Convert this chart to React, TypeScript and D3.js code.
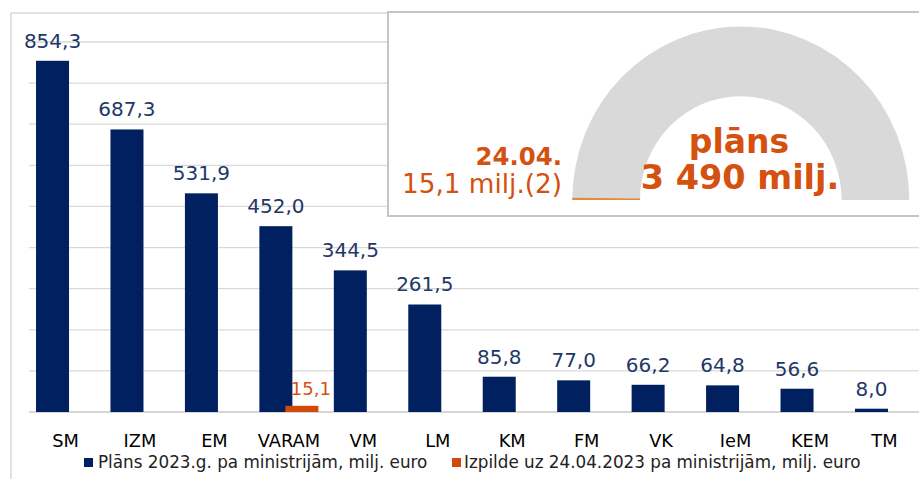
import React from "react";
import * as d3 from "d3";

const categories = ["SM", "IZM", "EM", "VARAM", "VM", "LM", "KM", "FM", "VK", "IeM", "KEM", "TM"];
const planValues = [854.3, 687.3, 531.9, 452.0, 344.5, 261.5, 85.8, 77.0, 66.2, 64.8, 56.6, 8.0];
const execValues: (number | null)[] = [null, null, null, 15.1, null, null, null, null, null, null, null, null];
const yTicks = [0, 100, 200, 300, 400, 500, 600, 700, 800, 900];
const legendLabels = ["Plāns 2023.g. pa ministrijām, milj. euro", "Izpilde uz 24.04.2023 pa ministrijām, milj. euro"];
const gaugeTotal = 3490;
const gaugeDone = 15.1;
const gaugeDateLabel = "24.04.";
const gaugeDoneLabel = "15,1 milj.(2)";
const gaugeTitle = "plāns";
const gaugeTotalLabel = "3 490 milj.";

const W = 919;
const H = 479;
const NAVY = "#002060";
const ORANGE = "#D24A0A";
const TEXT_ORANGE = "#D4510F";
const LABEL_NAVY = "#1F3868";
const FONT = "'DejaVu Sans', Verdana, sans-serif";

const fmt = (v: number) => d3.format(".1f")(v).replace(".", ",");

export default function App() {
  const x = d3.scaleBand<string>().domain(categories).range([28.3, 921.7]).paddingInner(0).paddingOuter(0);
  const y = d3.scaleLinear().domain([0, 900]).range([412, 42]);
  const barW = 33;
  const off = 13;

  // gauge
  const gcx = 740.8;
  const gcy = 200;
  const rOuter = 168.5;
  const rInner = 100.8;
  const ang = d3.scaleLinear().domain([0, gaugeTotal]).range([-Math.PI / 2, Math.PI / 2]);
  const arcGen = d3.arc<any>().innerRadius(rInner).outerRadius(rOuter);
  const bgPath = arcGen({ startAngle: ang(0), endAngle: ang(gaugeTotal) }) as string;
  const donePath = arcGen({ startAngle: ang(0), endAngle: ang(gaugeDone) }) as string;

  return (
    <svg
      width={W}
      height={H}
      style={{ position: "absolute", left: 0, top: 0, background: "#fff" }}
      fontFamily={FONT}
    >
      <rect x={0} y={0} width={W} height={H} fill="#fff" />
      {/* outer frame */}
      <path d={`M11,${H + 5} L11,13 L${W + 5},13`} fill="none" stroke="#d9d9d9" strokeWidth={1.5} />
      {/* gridlines */}
      {yTicks.map((t) => (
        <line
          key={t}
          x1={29}
          x2={W}
          y1={y(t)}
          y2={y(t)}
          stroke={t === 0 ? "#c8c8c8" : "#d9d9d9"}
          strokeWidth={t === 0 ? 1.6 : 1.3}
        />
      ))}
      {/* bars */}
      {categories.map((c, i) => {
        const cx = (x(c) as number) + x.bandwidth() / 2;
        const v = planValues[i];
        return (
          <g key={c}>
            <rect x={cx - off - barW / 2} y={y(v)} width={barW} height={y(0) - y(v)} fill={NAVY} />
            <text x={cx - off} y={y(v) - 13} textAnchor="middle" fontSize={20} fill={LABEL_NAVY}>
              {fmt(v)}
            </text>
          </g>
        );
      })}
      {categories.map((c, i) => {
        const v = execValues[i];
        if (v == null) return null;
        const cx = (x(c) as number) + x.bandwidth() / 2;
        return (
          <g key={"e" + c}>
            <rect x={cx + off - barW / 2} y={y(v)} width={barW} height={y(0) - y(v)} fill={ORANGE} />
            <text x={cx + off + 9} y={395} textAnchor="middle" fontSize={18} fill={TEXT_ORANGE}>
              {fmt(v)}
            </text>
          </g>
        );
      })}
      {/* category labels */}
      {categories.map((c) => (
        <text
          key={"l" + c}
          x={(x(c) as number) + x.bandwidth() / 2}
          y={447}
          textAnchor="middle"
          fontSize={17.8}
          fill="#000"
        >
          {c}
        </text>
      ))}
      {/* legend */}
      <rect x={84} y={458} width={9} height={9} fill={NAVY} />
      <text x={98} y={468} fontSize={16.8} fill="#222">
        {legendLabels[0]}
      </text>
      <rect x={452} y={458} width={9} height={9} fill={ORANGE} />
      <text x={464} y={468} fontSize={16.8} fill="#222">
        {legendLabels[1]}
      </text>
      {/* inset */}
      <rect x={388} y={12} width={W - 388 + 10} height={204} fill="#fff" stroke="#bfbfbf" strokeWidth={1.8} />
      <g transform={`translate(${gcx},${gcy}) scale(1,1.03)`}>
        <path d={bgPath} fill="#d9d9d9" />
        <path d={donePath} fill="#E8893A" />
      </g>
      <text x={562} y={165} textAnchor="end" fontSize={24.4} fontWeight="bold" fill={TEXT_ORANGE}>
        {gaugeDateLabel}
      </text>
      <text x={562} y={193} textAnchor="end" fontSize={26.3} fill={TEXT_ORANGE}>
        {gaugeDoneLabel}
      </text>
      <text x={739} y={153} textAnchor="middle" fontSize={33} fontWeight="bold" fill={TEXT_ORANGE}>
        {gaugeTitle}
      </text>
      <text x={740} y={189} textAnchor="middle" fontSize={33.5} fontWeight="bold" fill={TEXT_ORANGE}>
        {gaugeTotalLabel}
      </text>
    </svg>
  );
}
